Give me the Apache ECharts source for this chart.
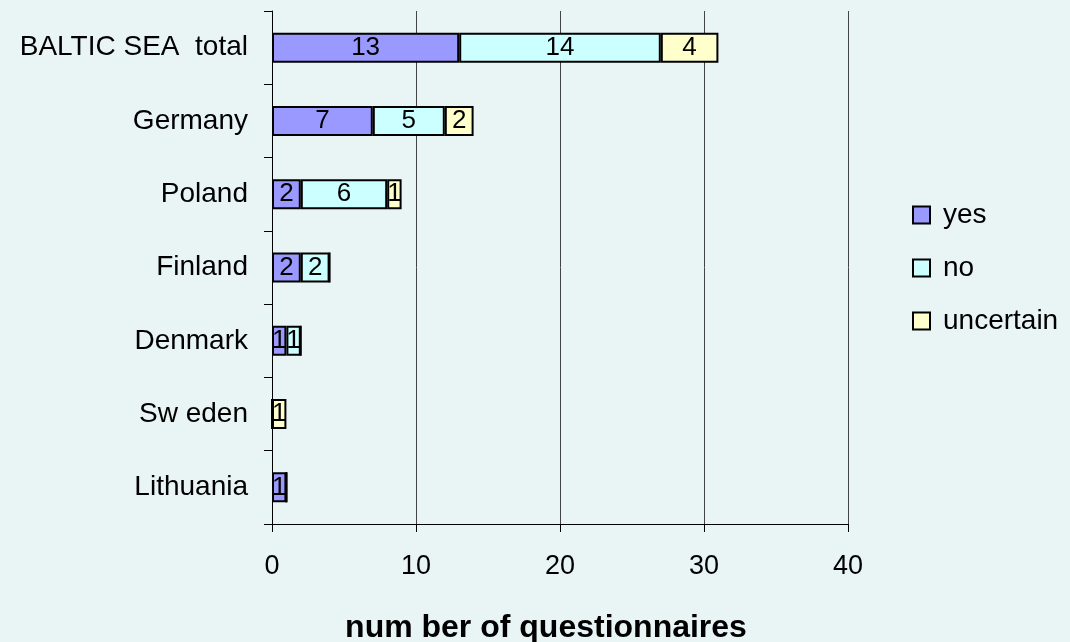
<!DOCTYPE html>
<html>
<head>
<meta charset="utf-8">
<script src="https://cdn.jsdelivr.net/npm/echarts@6/dist/echarts.min.js"></script>
<style>
	html, body { margin: 0; padding: 0; background: #E9F4F4; }
	#Charts { width: 1070px; height: 642px; }
</style>
</head>
<body>
<div id="Charts"></div>
<script>
// categories top to bottom
var countries = ['BALTIC SEA  total', 'Germany', 'Poland', 'Finland', 'Denmark', 'Sw eden', 'Lithuania']
var yesData = [13, 7, 2, 2, 1, 0, 1]
var noData = [14, 5, 6, 2, 1, 0, 0]
var uncertainData = [4, 2, 1, 0, 0, 1, 0]
var xTicks = [0, 10, 20, 30, 40]

var chart = echarts.init(document.getElementById("Charts"))

var FONT = '"Liberation Sans", Arial, sans-serif'

function mkSeries(name, color, data) {
	return {
		name: name,
		type: 'bar',
		stack: 'all',
		barWidth: 30,
		data: data,
		itemStyle: { color: color, borderColor: '#000', borderWidth: 2 },
		label: {
			show: true,
			position: 'inside',
			color: '#000',
			fontFamily: FONT,
			fontSize: 26,
			formatter: function(p) { return p.value ? p.value : '' }
		}
	}
}

var option = {
	backgroundColor: '#E9F4F4',
	animation: false,
	grid: { left: 272, right: 222, top: 11, bottom: 118, containLabel: false, outerBoundsMode: 'none' },
	legend: {
		orient: 'vertical',
		left: 907,
		top: 196,
		itemWidth: 17,
		itemHeight: 17,
		itemGap: 25,
		icon: 'rect',
		textStyle: { fontFamily: FONT, fontSize: 28, color: '#000', padding: [0, 0, 0, 8] },
		data: ['yes', 'no', 'uncertain']
	},
	xAxis: {
		type: 'value',
		min: xTicks[0],
		max: xTicks[xTicks.length - 1],
		interval: 10,
		name: 'num ber of questionnaires',
		nameLocation: 'middle',
		nameGap: 88,
		nameTextStyle: { fontFamily: FONT, fontSize: 32, fontWeight: 'bold', color: '#000', padding: [0, 28, 0, 0] },
		axisLine: { show: true, lineStyle: { color: '#000', width: 1 } },
		axisTick: { show: true, length: 8, lineStyle: { color: '#000' } },
		axisLabel: { fontFamily: FONT, fontSize: 27, color: '#000', margin: 29 },
		splitLine: { show: true, lineStyle: { color: '#444', width: 1 } }
	},
	yAxis: {
		type: 'category',
		inverse: true,
		data: countries,
		axisLine: { show: true, onZero: false, lineStyle: { color: '#000', width: 1 } },
		axisTick: { show: true, length: 8, alignWithLabel: false, lineStyle: { color: '#000' } },
		axisLabel: { fontFamily: FONT, fontSize: 28, color: '#000', margin: 24 },
		splitLine: { show: false }
	},
	series: [
		mkSeries('yes', '#9999FF', yesData),
		mkSeries('no', '#CCFFFF', noData),
		mkSeries('uncertain', '#FFFFCC', uncertainData)
	]
}

chart.setOption(option)
</script>
</body>
</html>
